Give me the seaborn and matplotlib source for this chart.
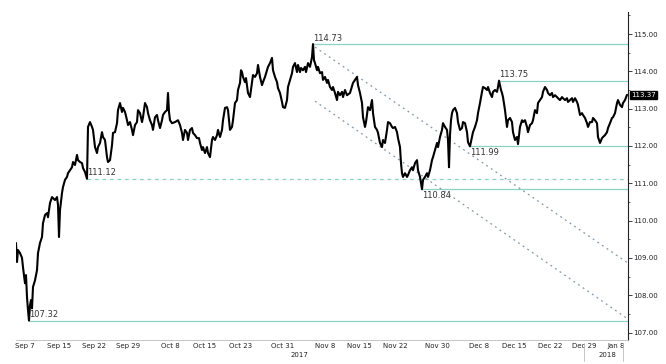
import matplotlib
matplotlib.use("Agg")
import matplotlib.pyplot as plt
from matplotlib.ticker import MultipleLocator, FormatStrFormatter
import pandas as pd
import seaborn as sns

# price, position = session bar along the time axis
bar = [0, 1, 2, 4, 6, 7, 9, 10, 11, 12, 13, 14, 15, 16, 17, 19, 21, 22, 24, 26,
       27, 29, 31, 32, 34, 36, 39, 41, 42, 43, 44, 46, 47, 49, 51, 52, 54, 56, 57, 59,
       61, 62, 64, 66, 67, 69, 71,
       72, 74, 76, 77, 79, 81, 82, 84, 86, 87, 89, 91, 92, 94, 96, 97, 99, 101, 102, 104,
       106, 107, 109, 111, 112, 114, 116, 117, 119, 121, 122, 124, 126, 127, 129, 131, 132, 134,
       136, 137, 139, 141, 142, 144,
       146, 147, 149, 151, 152, 153, 154, 156, 159, 162, 164, 166, 167, 169, 171, 172, 174, 176,
       177, 179, 181, 183, 184, 186, 187, 189, 191, 192, 194, 196, 197, 199, 201, 202, 204, 206,
       207, 209, 211, 212, 214, 216, 217, 219, 221, 222, 224,
       225, 226, 227, 229, 230, 232, 234, 236, 237, 239, 241, 242, 244, 246, 247, 249, 251, 252,
       254, 256, 257, 259, 261, 262, 264, 266, 267, 269, 271, 272, 274, 276, 277, 279, 281, 282,
       284, 285, 287, 289, 290, 292, 294, 296,
       297, 298, 299, 301, 302, 304, 306, 307, 309, 311, 312, 314, 316, 317, 319, 321, 322, 324,
       326, 327, 329, 331, 334, 337, 339, 341, 342, 344, 346, 347, 349, 350, 352, 354, 356, 357,
       359, 361, 362, 364, 366, 367, 369, 371, 372, 374, 376, 377, 379, 381, 382, 384,
       385, 386, 387, 389, 391, 392, 394, 396, 397, 399, 401, 402, 404, 406, 407, 409, 411, 412,
       414, 416, 417, 419, 421, 422, 424, 426, 427, 429, 431, 432, 433, 434, 435, 436, 437, 439,
       441, 442, 444, 446, 447, 449, 451, 452, 454,
       456, 457, 459, 461, 462, 464, 466, 467, 469, 471, 472, 474, 476, 477, 479, 481, 482, 483,
       485, 486, 487, 489, 491, 492, 494, 496, 497, 499, 501, 502, 504, 506, 507, 509, 511, 512,
       514, 516, 517, 519, 521, 522, 524,
       526, 527, 529, 531, 532, 534, 536, 537, 539, 541, 542, 544, 546, 547, 549, 551, 552, 554,
       556, 557, 559, 561, 562, 564, 566, 567, 569, 571, 572, 574, 576, 577, 579, 581, 582, 584,
       586, 587, 589, 591, 592, 594, 596, 597, 599, 601, 602, 604, 606, 607, 609, 611]

price = [109.40, 108.89, 109.21, 109.13, 109.00, 108.75, 108.32, 108.54, 107.95, 107.60,
         107.32, 107.73, 107.87, 107.65, 108.22, 108.40, 108.67, 109.13, 109.40, 109.56,
         109.93, 110.15, 110.20, 110.09, 110.47, 110.63, 110.55, 110.63, 110.42, 109.56,
         110.28, 110.74, 110.90, 111.09, 111.17, 111.27, 111.35, 111.43, 111.57, 111.49,
         111.76, 111.62, 111.57, 111.54, 111.41, 111.30, 111.12,
         112.51, 112.64, 112.51, 112.43, 111.97, 111.81, 111.97, 112.08, 112.37, 112.24,
         112.16, 111.70, 111.57, 111.62, 112.02, 112.35, 112.37, 112.61, 112.96, 113.15,
         112.91, 113.02, 112.91, 112.69, 112.56, 112.64, 112.43, 112.29, 112.56, 112.64,
         112.96, 112.88, 112.64, 112.77, 113.15, 113.04, 112.88, 112.69, 112.56, 112.43,
         112.77, 112.83, 112.69, 112.48,
         112.69, 112.83, 112.91, 112.96, 113.42, 112.91, 112.69, 112.61, 112.64, 112.69,
         112.56, 112.35, 112.16, 112.43, 112.35, 112.16, 112.43, 112.48, 112.35, 112.29,
         112.21, 112.21, 112.08, 111.89, 111.97, 111.81, 111.97, 111.81, 111.70, 112.16,
         112.24, 112.16, 112.29, 112.43, 112.24, 112.43, 112.69, 113.02, 113.04, 112.96,
         112.43, 112.51, 112.69, 113.15, 113.23, 113.50, 113.69,
         114.03, 113.98, 113.85, 113.71, 113.82, 113.42, 113.31, 113.69, 113.90, 113.85,
         113.95, 114.17, 113.85, 113.63, 113.71, 113.85, 114.03, 114.12, 114.22, 114.36,
         114.03, 113.85, 113.71, 113.55, 113.42, 113.18, 113.04, 113.02, 113.23, 113.58,
         113.77, 113.95, 114.12, 114.22, 113.98, 114.17, 113.98, 114.09, 114.03, 114.12,
         113.98, 114.22, 114.12, 114.38,
         114.73, 114.30, 114.22, 114.03, 114.12, 113.95, 113.98, 113.77, 113.85, 113.69,
         113.77, 113.58, 113.50, 113.58, 113.42, 113.23, 113.45, 113.36, 113.45, 113.31,
         113.50, 113.36, 113.42, 113.69, 113.77, 113.85, 113.63, 113.42, 113.15, 112.77,
         112.51, 112.64, 113.04, 112.96, 113.23, 112.88, 112.51, 112.43, 112.35, 112.08,
         111.97, 112.16, 112.08, 112.43, 112.64, 112.61, 112.51, 112.48, 112.51, 112.37,
         112.21, 111.97,
         111.54, 111.27, 111.17, 111.27, 111.17, 111.22, 111.35, 111.43, 111.35, 111.54,
         111.62, 111.35, 111.17, 110.84, 111.09, 111.17, 111.27, 111.17, 111.35, 111.62,
         111.70, 111.89, 112.08, 111.97, 112.24, 112.43, 112.61, 112.51, 112.43, 112.16,
         111.43, 112.29, 112.69, 112.88, 112.96, 113.02, 112.88, 112.64, 112.43, 112.48,
         112.64, 112.61, 112.37, 112.10, 111.99,
         112.24, 112.37, 112.51, 112.69, 112.88, 113.15, 113.45, 113.58, 113.55, 113.50,
         113.58, 113.42, 113.31, 113.45, 113.50, 113.45, 113.58, 113.75, 113.50, 113.42,
         113.31, 112.96, 112.51, 112.69, 112.75, 112.64, 112.37, 112.16, 112.24, 112.05,
         112.51, 112.69, 112.64, 112.69, 112.51, 112.37, 112.56, 112.61, 112.69, 112.96,
         112.88, 113.15, 113.23,
         113.31, 113.45, 113.58, 113.50, 113.42, 113.36, 113.42, 113.31, 113.36, 113.31,
         113.28, 113.23, 113.31, 113.28, 113.23, 113.28, 113.18, 113.23, 113.28, 113.18,
         113.28, 113.18, 113.10, 112.83, 112.88, 112.83, 112.75, 112.61, 112.51, 112.64,
         112.64, 112.75, 112.69, 112.61, 112.24, 112.08, 112.21, 112.24, 112.29, 112.37,
         112.48, 112.61, 112.75, 112.77, 112.88, 113.15, 113.23, 113.10, 113.04, 113.15,
         113.23, 113.37]

tick_pos = [9, 43, 78, 112, 154, 189, 225, 267, 309, 343, 379, 421, 463, 498, 534, 568, 600]
tick_lab = ['Sep 7', 'Sep 15', 'Sep 22', 'Sep 29', 'Oct 8', 'Oct 15', 'Oct 23', 'Oct 31',
            'Nov 8', 'Nov 15', 'Nov 22', 'Nov 30', 'Dec 8', 'Dec 15', 'Dec 22', 'Dec 29', 'Jan 8']
years = ['2017', '2018']
year_pos = [283, 591]
year_marks = [568, 607]

# support / resistance levels
levels = [114.73, 113.75, 111.99, 111.12, 110.84, 107.32]
level_start = [297, 483, 454, 71, 406, 13]
level_dashed = [False, False, False, True, False, False]
label_above = [True, True, False, True, False, True]

# falling channel
chan_x = [299, 612]
chan_upper = [114.65, 108.86]
chan_lower = [113.20, 107.36]
last_price = 113.37

teal = '#8ad2c2'
x_end = 612

sns.set_style('white')
plt.rcParams['font.family'] = ['DejaVu Sans']

fig = plt.figure(figsize=(6.66, 3.64), dpi=100)
ax = fig.add_axes([16 / 666, 24 / 364, 612 / 666, 328 / 364])

df = pd.DataFrame({'bar': bar, 'price': price})
sns.lineplot(data=df, x='bar', y='price', color='black', lw=1.5, ax=ax, zorder=3)

for lv, st, dsh, up in zip(levels, level_start, level_dashed, label_above):
    ax.hlines(lv, st, x_end, color=teal, lw=0.9, linestyles=(0, (3, 3)) if dsh else 'solid', zorder=2)
    ax.annotate(f'{lv:.2f}', xy=(st, lv), xytext=(0, 1 if up else -1.5), textcoords='offset points',
                ha='left', va='bottom' if up else 'top', fontsize=6, color='#333333', zorder=4)

ax.plot(chan_x, chan_upper, ls=(0, (1.5, 3)), color='#8797a8', lw=0.9, zorder=2)
ax.plot(chan_x, chan_lower, ls=(0, (1.5, 3)), color='#8797a8', lw=0.9, zorder=2)

ax.set_xlim(0, x_end)
ax.set_ylim(106.80, 115.59)
ax.set_xlabel('')
ax.set_ylabel('')

ax.yaxis.tick_right()
ax.yaxis.set_major_locator(MultipleLocator(1))
ax.yaxis.set_minor_locator(MultipleLocator(0.5))
ax.yaxis.set_major_formatter(FormatStrFormatter('%.2f'))
ax.tick_params(axis='y', which='major', labelsize=5, length=3, width=0.6, pad=1, colors='#222222')
ax.tick_params(axis='y', which='minor', length=1.5, width=0.5, color='#222222')

ax.set_xticks(tick_pos)
ax.set_xticklabels(tick_lab)
ax.xaxis.set_minor_locator(MultipleLocator(6))
ax.tick_params(axis='x', which='major', labelsize=5, length=1.5, width=0.5, pad=0.5, colors='#222222')
ax.tick_params(axis='x', which='minor', length=1.2, width=0.5, color='#888888')

for s in ['left', 'top']:
    ax.spines[s].set_visible(False)
ax.spines['right'].set_color('#222222')
ax.spines['right'].set_linewidth(0.8)
ax.spines['bottom'].set_color('#bbbbbb')
ax.spines['bottom'].set_linewidth(0.6)

xt = ax.get_xaxis_transform()
for yr, p in zip(years, year_pos):
    ax.text(p, -0.045, yr, transform=xt, ha='center', va='center', fontsize=5, color='#222222')
for m in year_marks:
    ax.plot([m, m], [-0.01, -0.065], transform=xt, clip_on=False, color='#bbbbbb', lw=0.6)

ax.annotate(f'{last_price:.2f}', xy=(1, last_price), xycoords=ax.get_yaxis_transform(),
            xytext=(2.5, 0), textcoords='offset points', ha='left', va='center', fontsize=5,
            color='white', bbox=dict(boxstyle='square,pad=0.15', fc='black', ec='black'))

fig.savefig('out.png', dpi=100)
